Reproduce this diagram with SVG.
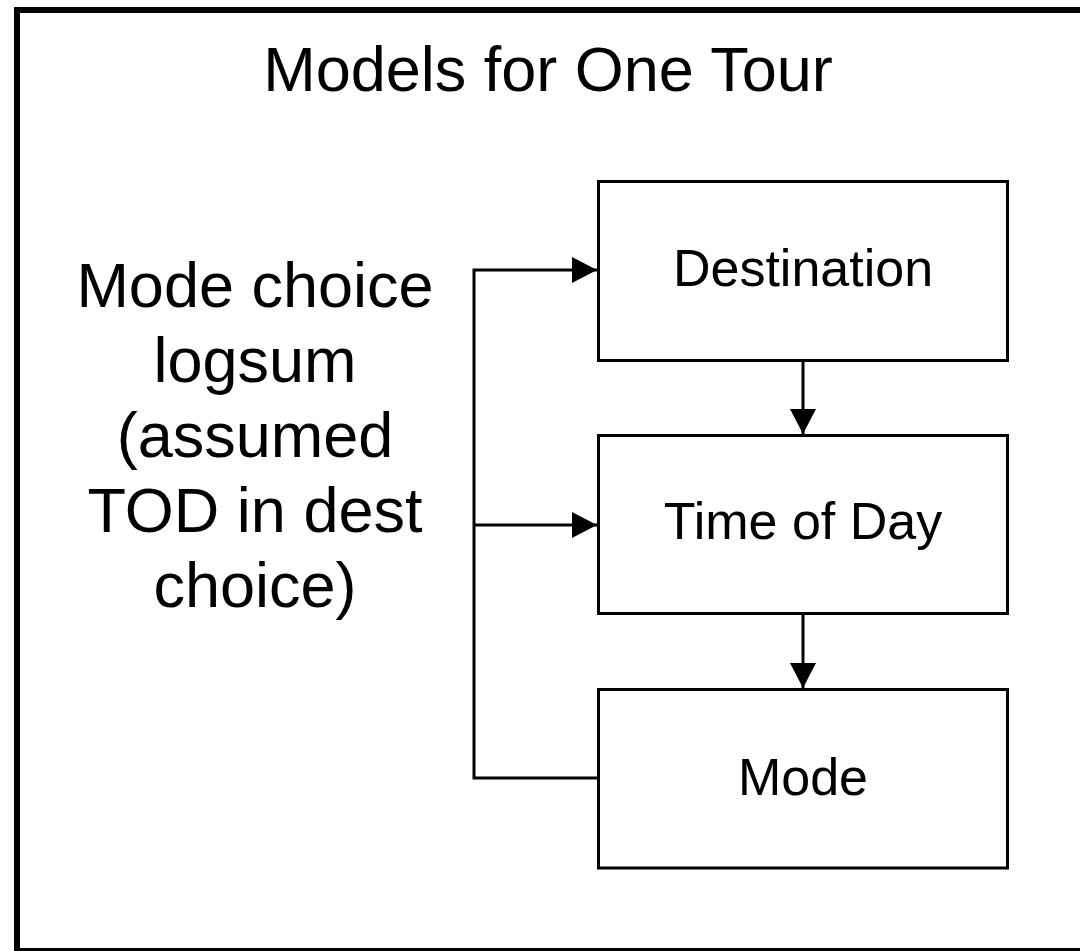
<svg xmlns="http://www.w3.org/2000/svg" width="1080" height="951" viewBox="0 0 1080 951">
<style>
.box{fill:#fff;stroke:#000;stroke-width:3}
.conn{fill:none;stroke:#000;stroke-width:3}
text{font-family:"Liberation Sans",Arial,sans-serif;fill:#000;text-anchor:middle}
.lbl{font-size:52px}
.side{font-size:63px}
.title{font-size:63px}
</style>
<defs>
<marker id="arr" markerUnits="userSpaceOnUse" markerWidth="25" markerHeight="26" refX="25" refY="13" orient="auto" viewBox="0 0 25 26">
<path d="M0,0 L25,13 L0,26 z" fill="#000"/>
</marker>
</defs>
<rect x="0" y="0" width="1080" height="951" fill="#fff"/>
<rect x="17" y="10" width="1070" height="941" fill="none" stroke="#000" stroke-width="6"/>
<text class="title" x="548" y="91">Models for One Tour</text>
<g id="note">
<text class="side" x="255" y="307">Mode choice</text>
<text class="side" x="255" y="382">logsum</text>
<text class="side" x="255" y="457">(assumed</text>
<text class="side" x="255" y="532">TOD in dest</text>
<text class="side" x="255" y="607">choice)</text>
</g>
<g id="connectors">
<polyline class="conn" points="598,778 474,778 474,270 597,270" marker-end="url(#arr)"/>
<line class="conn" x1="474" y1="525" x2="597" y2="525" marker-end="url(#arr)"/>
<line class="conn" x1="803" y1="360" x2="803" y2="434" marker-end="url(#arr)"/>
<line class="conn" x1="803" y1="613" x2="803" y2="688" marker-end="url(#arr)"/>
</g>
<g id="destination">
<rect class="box" x="598.5" y="181.5" width="409" height="179"/>
<text class="lbl" x="803" y="286">Destination</text>
</g>
<g id="time-of-day">
<rect class="box" x="598.5" y="435.5" width="409" height="178"/>
<text class="lbl" x="803" y="539">Time of Day</text>
</g>
<g id="mode">
<rect class="box" x="598.5" y="689.5" width="409" height="178.5"/>
<text class="lbl" x="803" y="795">Mode</text>
</g>
</svg>
